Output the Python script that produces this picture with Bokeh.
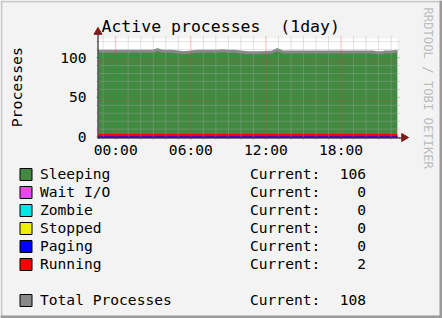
import math
from bokeh.plotting import figure
from bokeh.models import Range1d, FixedTicker, Label, LinearAxis
from bokeh.embed import file_html
from bokeh.resources import INLINE

FONT = "DejaVu Sans Mono"

# ---- data (hours relative to midnight) ----
hours = [-1.374, -1.0, -0.5, 0.0, 0.5, 1.0, 1.5, 2.0, 2.5, 3.0, 3.35, 3.7, 4.0,
         4.5, 5.0, 5.4, 6.0, 6.5, 7.0, 7.5, 8.0, 8.5, 9.0, 9.5, 10.0, 10.5,
         11.0, 11.5, 12.0, 12.5, 12.9, 13.3, 13.5, 14.0, 14.5, 15.0, 15.5, 16.0,
         16.5, 17.0, 17.5, 18.0, 18.5, 19.0, 19.5, 20.0, 20.5, 20.9, 21.3, 21.5,
         22.0, 22.5]
total = [108, 108, 108, 108, 108, 108, 108, 108, 108, 108, 110, 108, 108,
         108, 107, 106, 107, 108, 108, 108, 108, 108.5, 108, 108, 107, 106,
         106, 106, 106.5, 107, 110, 107.5, 107, 107, 107, 107, 107, 107,
         107, 107, 107, 107, 107, 107, 107, 107, 107, 106, 106, 107,
         107, 108]
running = [2, 2, 2, 2, 2, 2, 2, 2, 2, 2, 2, 2, 2,
           2, 2, 2, 2, 2, 2, 2, 2, 2, 2, 2, 2, 2,
           2, 2, 2, 2, 2, 2, 2, 2, 2, 2, 2, 2,
           2, 2, 2, 2, 2, 2, 2, 2, 2, 2, 2, 2,
           2, 2]
paging = [0, 0, 0, 0, 0, 0, 0, 0, 0, 0, 0, 0, 0,
          0, 0, 0, 0, 0, 0, 0, 0, 0, 0, 0, 0, 0,
          0, 0, 0, 0, 0, 0, 0, 0, 0, 0, 0, 0,
          0, 0, 0, 0, 0, 0, 0, 0, 0, 0, 0, 0,
          0, 0]

x_ticks = [0, 6, 12, 18]
x_tick_labels = ["00:00", "06:00", "12:00", "18:00"]
x_minor = [-1, 1, 2, 3, 4, 5, 7, 8, 9, 10, 11, 13, 14, 15, 16, 17,
           19, 20, 21, 22]
y_ticks = [0, 50, 100]
y_tick_labels = ["0", "50", "100"]
y_minor = [10, 20, 30, 40, 60, 70, 80, 90, 110, 120]

legend_names = ["Sleeping", "Wait I/O", "Zombie", "Stopped", "Paging", "Running"]
legend_colors = ["#428a42", "#ee44ee", "#00e6e6", "#eeee00", "#0000ff", "#ff0000"]
legend_current = [106, 0, 0, 0, 0, 2]
total_name = "Total Processes"
total_color = "#888888"
total_current = 108

title_text = "Active processes\u00a0 (1day)"
y_label = "Processes"
watermark = "RRDTOOL / TOBI OETIKER"

# ---- layout (pixels) ----
W, H = 442, 318
FL, FT, FW, FH = 98, 38, 299, 99      # chart area inside the canvas
X0, X1 = -1.374, 22.51                # hours shown in the chart area
Y0, Y1 = -0.5, 124                    # values shown in the chart area
KX = (X1 - X0) / FW
KY = (Y1 - Y0) / FH


def cx(px):
    return X0 + (px - FL) * KX


def cy(py):
    return Y1 - (py - FT) * KY


sleep_top = [r + (t - r) for r, t in zip(running, total)]

p = figure(width=W, height=H, output_backend="svg", toolbar_location=None,
           x_range=Range1d(cx(0), cx(W)), y_range=Range1d(cy(H), cy(0)),
           x_axis_type=None, y_axis_type=None,
           min_border=0, min_border_left=0, min_border_right=0,
           min_border_top=0, min_border_bottom=0,
           background_fill_color="#f3f3f3", border_fill_color="#f3f3f3",
           outline_line_color=None)

# chart background
p.quad(left=[X0], right=[X1], bottom=[Y0], top=[Y1], fill_color="white", line_color=None)

# ---- data glyphs ----
p.varea(x=hours, y1=0, y2=running, fill_color="#ff0000")
p.varea(x=hours, y1=running, y2=sleep_top, fill_color="#428a42")
p.line(hours, running, line_color="#ff0000", line_width=3)
p.line(hours, paging, line_color="#0000ff", line_width=1.5)
p.line(hours, total, line_color="#888888", line_width=3)

# ---- grid (drawn over the data, RRDtool style) ----
gy0, gy1 = cy(FT + FH + 2), cy(FT - 3)
gx0, gx1 = cx(FL - 2), cx(FL + FW + 3)
p.segment(x0=x_minor, x1=x_minor, y0=[gy0] * len(x_minor), y1=[gy1] * len(x_minor),
          line_color="#a8a8a8", line_alpha=0.65, line_dash="1 1", line_width=1)
p.segment(x0=[gx0] * len(y_minor), x1=[gx1] * len(y_minor), y0=y_minor, y1=y_minor,
          line_color="#a8a8a8", line_alpha=0.65, line_dash="1 1", line_width=1)
p.segment(x0=x_ticks, x1=x_ticks, y0=[gy0] * len(x_ticks), y1=[gy1] * len(x_ticks),
          line_color="#ff3030", line_alpha=0.65, line_dash="1 1", line_width=1)
p.segment(x0=[gx0] * len(y_ticks), x1=[gx1] * len(y_ticks), y0=y_ticks, y1=y_ticks,
          line_color="#ff3030", line_alpha=0.65, line_dash="1 1", line_width=1)

# ---- axis lines with arrow heads ----
arrow_col = "#7f1a1a"
p.segment(x0=[cx(97.5), cx(97.5)], x1=[cx(97.5), cx(401)],
          y0=[cy(138), cy(137.5)], y1=[cy(33), cy(137.5)],
          line_color="black", line_width=1)
p.scatter(x=[cx(97.5)], y=[cy(31.5)], marker="triangle", size=8,
          fill_color=arrow_col, line_color=arrow_col)
p.scatter(x=[cx(403.5)], y=[cy(137)], marker="triangle", size=8, angle=-math.pi / 2,
          fill_color=arrow_col, line_color=arrow_col)

# ---- axes (tick labels only), fixed at the chart edges ----
xa = LinearAxis(fixed_location=Y0,
                ticker=FixedTicker(ticks=x_ticks, minor_ticks=[]),
                major_label_overrides={k: v for k, v in zip(x_ticks, x_tick_labels)},
                major_label_standoff=3)
ya = LinearAxis(fixed_location=X0,
                ticker=FixedTicker(ticks=y_ticks, minor_ticks=[]),
                major_label_overrides={k: v for k, v in zip(y_ticks, y_tick_labels)},
                major_label_standoff=12)
for ax in (xa, ya):
    ax.axis_line_color = None
    ax.major_tick_line_color = None
    ax.minor_tick_line_color = None
    ax.major_tick_in = 0
    ax.major_tick_out = 0
    ax.minor_tick_in = 0
    ax.minor_tick_out = 0
    ax.major_label_text_font = FONT
    ax.major_label_text_font_size = "14.6px"
    ax.major_label_text_color = "black"
p.add_layout(xa, "below")
p.add_layout(ya, "left")

# ---- texts ----
def text(x, y, s, size="14.6px", color="black", align="left", angle=0.0):
    p.add_layout(Label(x=cx(x), y=cy(y), text=s, angle=angle,
                       text_font=FONT, text_font_size=size, text_color=color,
                       text_baseline="middle", text_align=align))


text(101, 26, title_text, size="16.5px")
text(16, 86.7, y_label, size="14.8px", align="center", angle=math.pi / 2)
text(427, 7, watermark, size="12.2px", color="#bdbdbd", angle=-math.pi / 2)

# ---- legend ----
rows = [(n, c, v, 173 + 18 * i)
        for i, (n, c, v) in enumerate(zip(legend_names, legend_colors, legend_current))]
rows.append((total_name, total_color, total_current, 299))
for name, color, cur, mid in rows:
    p.quad(left=[cx(19.5)], right=[cx(31.5)], top=[cy(mid - 5)], bottom=[cy(mid + 7)],
           fill_color=color, line_color="black", line_width=1)
    text(39.5, mid, name)
    text(249.5, mid, "Current:")
    text(365.5, mid, str(cur), align="right")

# ---- outer frame (light top/left, dark bottom/right) ----
p.quad(left=[cx(0), cx(0), cx(0), cx(439)], right=[cx(442), cx(2), cx(442), cx(442)],
       top=[cy(0), cy(0), cy(315), cy(0)], bottom=[cy(2), cy(318), cy(318), cy(318)],
       fill_color=["#cbcbcb", "#cbcbcb", "#9a9a9a", "#9a9a9a"], line_color=None)

open("out.html", "w").write(file_html(p, INLINE))
